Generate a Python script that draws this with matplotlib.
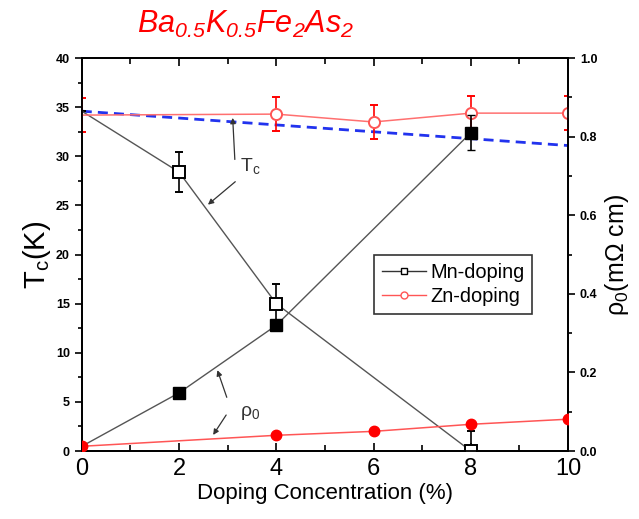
import matplotlib

matplotlib.use("Agg")
import matplotlib.pyplot as plt
import matplotlib.ticker as mticker
from matplotlib.lines import Line2D

plt.rcParams["font.family"] = ["Liberation Sans", "DejaVu Sans"]
plt.rcParams["mathtext.fontset"] = "custom"
plt.rcParams["mathtext.rm"] = "Liberation Sans"
plt.rcParams["mathtext.it"] = "Liberation Sans:italic"
plt.rcParams["mathtext.sf"] = "Liberation Sans:italic"

# doping concentration (%)
mn_x = [0, 2, 4, 8]
zn_x = [0, 4, 6, 8, 10]

# Tc (K), left axis
mn_tc = [34.6, 28.4, 15.0, 0.0]
mn_tc_err = [0.0, 2.0, 2.0, 2.0]
zn_tc = [34.2, 34.3, 33.5, 34.4, 34.4]
zn_tc_err = [1.7, 1.7, 1.7, 1.7, 1.7]

# residual resistivity rho0 (mOhm cm), right axis
mn_rho = [0.012, 0.148, 0.32, 0.81]
mn_rho_err = [0.0, 0.0, 0.0, 0.044]
zn_rho = [0.012, 0.040, 0.050, 0.068, 0.081]

# reference Tc trend (dashed)
ref_x = [0, 10]
ref_tc = [34.6, 31.1]

fig = plt.figure(figsize=(6.39, 5.19), dpi=100)
ax = fig.add_axes([0.128, 0.131, 0.761, 0.757])
ax2 = ax.twinx()

ax.plot(ref_x, ref_tc, color="#2233ee", lw=2.0, dashes=(3.6, 2.2), zorder=2)

# markers at x=0 sit under the left spine, so skip them
ax.errorbar(mn_x, mn_tc, yerr=mn_tc_err, color="#555555", lw=1.0, ecolor="black",
            elinewidth=1.2, capsize=3, marker="s", ms=8, mfc="white", mec="black",
            mew=1.4, zorder=4, markevery=[1, 2, 3])
ax.errorbar(zn_x, zn_tc, yerr=zn_tc_err, color="#ff7070", lw=1.1, ecolor="red",
            elinewidth=1.2, capsize=3, marker="o", ms=8, mfc="white", mec="#ff5555",
            mew=1.4, zorder=4, markevery=[1, 2, 3, 4])

ax2.errorbar(mn_x, mn_rho, yerr=mn_rho_err, color="#555555", lw=1.0, ecolor="black",
             elinewidth=1.2, capsize=3, marker="s", ms=8, mfc="black", mec="black",
             zorder=4, markevery=[1, 2, 3])
ax2.plot(zn_x, zn_rho, "-", color="#ff5555", lw=1.1, marker="o", ms=7.5,
         mfc="red", mec="red", zorder=5)

ax.set_xlim(0, 10)
ax.set_ylim(0, 40)
ax2.set_ylim(0, 1.0)

ax.xaxis.set_major_locator(mticker.MultipleLocator(2))
ax.xaxis.set_minor_locator(mticker.MultipleLocator(1))
ax.yaxis.set_major_locator(mticker.MultipleLocator(5))
ax.yaxis.set_minor_locator(mticker.MultipleLocator(2.5))
ax2.yaxis.set_major_locator(mticker.MultipleLocator(0.2))
ax2.yaxis.set_minor_locator(mticker.MultipleLocator(0.1))
ax2.yaxis.set_major_formatter(mticker.FormatStrFormatter("%.1f"))

ax.tick_params(axis="x", which="both", direction="in", top=True, labelsize=17, pad=5)
ax.tick_params(axis="x", which="major", length=6, width=1.2)
ax.tick_params(axis="x", which="minor", length=4, width=1.2)
ax.tick_params(axis="y", which="both", direction="out", labelsize=9, width=1.2)
ax.tick_params(axis="y", which="major", length=5)
ax.tick_params(axis="y", which="minor", length=3)
ax2.tick_params(axis="y", which="both", direction="out", labelsize=9, width=1.2)
ax2.tick_params(axis="y", which="major", length=5)
ax2.tick_params(axis="y", which="minor", length=3)
for lab in ax.get_yticklabels() + ax2.get_yticklabels():
    lab.set_fontweight("bold")
for a in (ax, ax2):
    for s in a.spines.values():
        s.set_linewidth(1.3)

ax.set_xlabel("Doping Concentration (%)", fontsize=16, labelpad=2)
ax.set_ylabel(r"T$_\mathregular{c}$(K)", fontsize=21, labelpad=2)
ax2.set_ylabel("ρ$_\\mathregular{0}$(mΩ cm)", fontsize=18, labelpad=4)

fig.text(0.384, 0.952, r"$\mathsf{Ba_{0.5}K_{0.5}Fe_2As_2}$",
         color="red", fontsize=22, ha="center", va="center")

# arrow labels
arrow = dict(arrowstyle="-|>", color="#333333", lw=0.9, mutation_scale=8)
ax.text(3.25, 28.5, r"T$_\mathregular{c}$", fontsize=14, color="#333333")
ax.annotate("", xy=(3.1, 34.2), xytext=(3.15, 29.4), arrowprops=arrow)
ax.annotate("", xy=(2.55, 24.9), xytext=(3.2, 27.6), arrowprops=arrow)
ax.text(3.25, 3.6, "ρ$_\\mathregular{0}$", fontsize=14, color="#333333")
ax.annotate("", xy=(2.77, 8.5), xytext=(3.0, 5.2), arrowprops=arrow)
ax.annotate("", xy=(2.67, 1.4), xytext=(3.0, 3.9), arrowprops=arrow)

handles = [
    Line2D([], [], color="#333333", lw=1.0, marker="s", ms=5, mfc="white", mec="black"),
    Line2D([], [], color="#ff5555", lw=1.0, marker="o", ms=5, mfc="white", mec="#ff5555"),
]
leg = ax.legend(handles, ["Mn-doping", "Zn-doping"], loc="upper left",
                bbox_to_anchor=(0.601, 0.499), borderaxespad=0, fontsize=14.4,
                frameon=True, fancybox=False, edgecolor="black", handlelength=2.2,
                borderpad=0.4, labelspacing=0.25, handletextpad=0.2)
leg.get_frame().set_linewidth(1.2)
leg.set_zorder(10)

fig.savefig("out.png", dpi=100)
